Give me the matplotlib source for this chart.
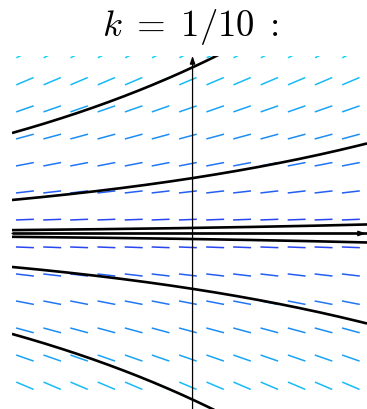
import numpy as np
import matplotlib
matplotlib.use("Agg")
import matplotlib.pyplot as plt
from matplotlib.collections import LineCollection
from matplotlib.colors import LinearSegmentedColormap

plt.rcParams['mathtext.fontset'] = 'cm'

# ODE y' = k*y
k = 0.1
# integration constants of the drawn solutions y = C*exp(k*x)
sol_C = [3, 1, 0.1, 0, -0.1, -1, -3]
# slope field sample points
grid_x = [-4.67, -3.91, -3.16, -2.40, -1.64, -0.89, -0.13, 0.63, 1.38, 2.14, 2.90, 3.65, 4.41]
grid_y = [-2.75, -2.25, -1.75, -1.25, -0.75, -0.25, 0.25, 0.75, 1.25, 1.75, 2.25, 2.75, 3.25]

xmin, xmax = -5.03, 4.86
ymin, ymax = -3.17, 3.205
seg_len = 0.5

fig = plt.figure(figsize=(3.67, 4.10), dpi=100)
ax = fig.add_axes([12/367, 0, 355/367, 353/410])
ax.set_xlim(xmin, xmax)
ax.set_ylim(ymin, ymax)
ax.axis('off')

# slope segments, coloured by |slope|
cmap = LinearSegmentedColormap.from_list('field', ['#2a3cf0', '#12d2f8'])
segs, cols = [], []
for yv in grid_y:
    m = k * yv
    dx = 0.5 * seg_len / np.sqrt(1 + m**2)
    for xv in grid_x:
        segs.append([(xv - dx, yv - m*dx), (xv + dx, yv + m*dx)])
        cols.append(cmap(abs(yv) / max(abs(v) for v in grid_y)))
ax.add_collection(LineCollection(segs, colors=cols, linewidths=1.1))

# solution curves
xs = np.linspace(xmin, xmax, 300)
for C in sol_C:
    ax.plot(xs, C*np.exp(k*xs), color='black', lw=1.9, solid_capstyle='butt')

# coordinate axes
arrow = dict(arrowstyle='-|>,head_length=0.45,head_width=0.16', color='black',
             lw=0.9, shrinkA=0, shrinkB=0)
ax.annotate('', xy=(xmax - 0.03, 0), xytext=(xmin, 0), arrowprops=arrow,
            annotation_clip=False)
ax.annotate('', xy=(0, ymax), xytext=(0, ymin), arrowprops=arrow,
            annotation_clip=False)

fig.text(190/367, 1 - 27/410, r'$k\;=\;1/10\;:$', fontsize=26.5, ha='center', va='center')

fig.savefig('out.png', dpi=100)
